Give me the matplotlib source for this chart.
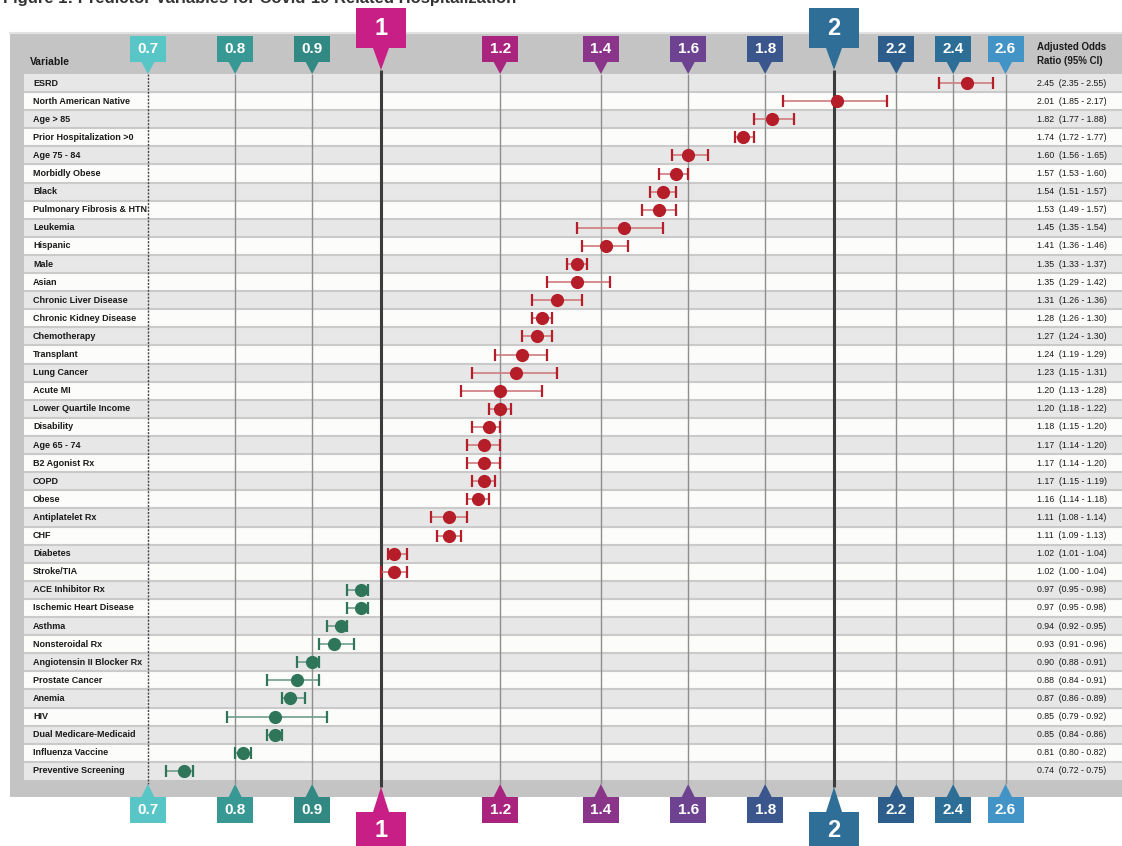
import numpy as np
import matplotlib.pyplot as plt
from matplotlib.patches import Rectangle, Polygon
from matplotlib.transforms import blended_transform_factory

plt.rcParams['font.family'] = ['Liberation Sans', 'DejaVu Sans']

variables = ["ESRD", "North American Native", "Age > 85", "Prior Hospitalization >0",
             "Age 75 - 84", "Morbidly Obese", "Black", "Pulmonary Fibrosis & HTN",
             "Leukemia", "Hispanic", "Male", "Asian", "Chronic Liver Disease",
             "Chronic Kidney Disease", "Chemotherapy", "Transplant", "Lung Cancer",
             "Acute MI", "Lower Quartile Income", "Disability", "Age 65 - 74",
             "B2 Agonist Rx", "COPD", "Obese", "Antiplatelet Rx", "CHF", "Diabetes",
             "Stroke/TIA", "ACE Inhibitor Rx", "Ischemic Heart Disease", "Asthma",
             "Nonsteroidal Rx", "Angiotensin II Blocker Rx", "Prostate Cancer", "Anemia",
             "HIV", "Dual Medicare-Medicaid", "Influenza Vaccine", "Preventive Screening"]
odds = [2.45, 2.01, 1.82, 1.74, 1.60, 1.57, 1.54, 1.53, 1.45, 1.41, 1.35, 1.35, 1.31,
        1.28, 1.27, 1.24, 1.23, 1.20, 1.20, 1.18, 1.17, 1.17, 1.17, 1.16, 1.11, 1.11,
        1.02, 1.02, 0.97, 0.97, 0.94, 0.93, 0.90, 0.88, 0.87, 0.85, 0.85, 0.81, 0.74]
ci_low = [2.35, 1.85, 1.77, 1.72, 1.56, 1.53, 1.51, 1.49, 1.35, 1.36, 1.33, 1.29, 1.26,
          1.26, 1.24, 1.19, 1.15, 1.13, 1.18, 1.15, 1.14, 1.14, 1.15, 1.14, 1.08, 1.09,
          1.01, 1.00, 0.95, 0.95, 0.92, 0.91, 0.88, 0.84, 0.86, 0.79, 0.84, 0.80, 0.72]
ci_high = [2.55, 2.17, 1.88, 1.77, 1.65, 1.60, 1.57, 1.57, 1.54, 1.46, 1.37, 1.42, 1.36,
           1.30, 1.30, 1.29, 1.31, 1.28, 1.22, 1.20, 1.20, 1.20, 1.19, 1.18, 1.14, 1.13,
           1.04, 1.04, 0.98, 0.98, 0.95, 0.96, 0.91, 0.91, 0.89, 0.92, 0.86, 0.82, 0.75]

tick_vals = [0.7, 0.8, 0.9, 1, 1.2, 1.4, 1.6, 1.8, 2, 2.2, 2.4, 2.6]
tick_labels = ["0.7", "0.8", "0.9", "1", "1.2", "1.4", "1.6", "1.8", "2", "2.2", "2.4", "2.6"]
tick_colors = ["#58c6c6", "#379894", "#328883", "#c71f85", "#a8247f", "#8b358a",
               "#6d4290", "#3b558d", "#2e6e97", "#2d5e8b", "#2c6e96", "#4294c7"]
big_ticks = [1, 2]

W, H = 1122, 846
PX_PER_LN = 653.6     # horizontal pixels per unit of ln(odds)
X_ONE = 381           # pixel column of OR = 1
ROW_TOP, ROW_H = 74, 18.1

fig = plt.figure(figsize=(W / 100, H / 100), dpi=100)
ax = fig.add_axes([0, 0, 1, 1])
ax.set_xscale('log')
ax.set_xlim(np.exp(-X_ONE / PX_PER_LN), np.exp((W - X_ONE) / PX_PER_LN))


def py(p):
    return (p - ROW_TOP) / ROW_H - 0.5


def fx(p):
    return p / W


def shift(v, off):
    return v * np.exp(off / PX_PER_LN)


ax.set_ylim(py(H), py(0))
ax.axis('off')
tr = blended_transform_factory(ax.transAxes, ax.transData)

n = len(variables)
rows = np.arange(n)

# title (runs off the top edge)
ax.text(fx(3), py(3), "Figure 1: Predictor Variables for Covid-19 Related Hospitalization",
        transform=tr, fontsize=12, fontweight='bold', color='#333333', va='baseline')

# grey panel and row strips
ax.add_patch(Rectangle((fx(10), py(33)), fx(W - 10), py(797) - py(33), transform=tr,
                       facecolor='#c4c4c4', edgecolor='none', zorder=0))
ax.plot([fx(10), 1], [py(33), py(33)], transform=tr, color='#e2e2e2', lw=1.5, zorder=0)
for i in rows:
    ax.add_patch(Rectangle((fx(24), i - 0.5), 1, 1, transform=tr,
                           facecolor='#e7e7e7' if i % 2 == 0 else '#fcfcfb',
                           edgecolor='none', zorder=1))
ax.hlines(rows[:-1] + 0.5, fx(24), 1, transform=tr, color='#cacaca', lw=1.5, zorder=1.5)

ax.text(fx(30), py(62), "Variable", transform=tr, fontsize=7.5, fontweight='bold',
        color='#1a1a1a', va='center')
ax.text(fx(1037), py(54), "Adjusted Odds\nRatio (95% CI)", transform=tr, fontsize=7,
        fontweight='bold', color='#1a1a1a', va='center', linespacing=1.6)

for i, name in enumerate(variables):
    ax.text(fx(33), i, name, transform=tr, fontsize=6.5, fontweight='bold',
            color='#1a1a1a', va='center')
    ax.text(fx(1037), i, f"{odds[i]:.2f}  ({ci_low[i]:.2f} - {ci_high[i]:.2f})",
            transform=tr, fontsize=6.3, color='#1a1a1a', va='center')

# reference lines
for v in tick_vals:
    if v == 0.7:
        ax.vlines(v, py(74), py(784), color='#444444', lw=1, ls=(0, (1.5, 1)), zorder=2)
    elif v in big_ticks:
        ax.vlines(v, py(70), py(787), color='#3c3c3c', lw=2.2, zorder=2)
    else:
        ax.vlines(v, py(74), py(784), color='#8e8e8e', lw=1, zorder=2)

# badges on top and bottom
for v, lab, col in zip(tick_vals, tick_labels, tick_colors):
    big = v in big_ticks
    w, hw = (50, 8) if big else (36, 6.5)
    if big:
        top_rect, top_tip = (8, 48), 70
        bot_rect, bot_tip = (812, 860), 787
    else:
        top_rect, top_tip = (36, 62), 74
        bot_rect, bot_tip = (797, 823), 784
    for (r0, r1), tip, base in [(top_rect, top_tip, top_rect[1]),
                                (bot_rect, bot_tip, bot_rect[0])]:
        ax.add_patch(Rectangle((shift(v, -w / 2), py(r0)), shift(v, w / 2) - shift(v, -w / 2),
                               py(r1) - py(r0), facecolor=col, edgecolor='none', zorder=5))
        ax.add_patch(Polygon([(shift(v, -hw), py(base)), (shift(v, hw), py(base)), (v, py(tip))],
                             closed=True, facecolor=col, edgecolor='none', zorder=5))
        cy = (r0 + min(r1, H)) / 2 + (1 if big else 0)
        ax.text(v, py(cy), lab, color='white', fontsize=17 if big else 11,
                fontweight='bold', ha='center', va='center', zorder=6)

# odds ratios with confidence intervals
odds_a = np.array(odds)
lo_a = np.array(ci_low)
hi_a = np.array(ci_high)
for up, dot_col, bar_col in [(True, '#b51d28', '#cf7a7f'), (False, '#2f7559', '#6f9e8c')]:
    m = (odds_a > 1) if up else (odds_a <= 1)
    _, caps, bars = ax.errorbar(odds_a[m], rows[m], xerr=[odds_a[m] - lo_a[m], hi_a[m] - odds_a[m]],
                                fmt='none', ecolor=dot_col, elinewidth=1.2, capsize=4.5,
                                capthick=1.6, zorder=3)
    bars[0].set_color(bar_col)
    ax.plot(odds_a[m], rows[m], 'o', ms=9.5, color=dot_col, mec='none', zorder=4)

fig.savefig('out.png', dpi=100)
